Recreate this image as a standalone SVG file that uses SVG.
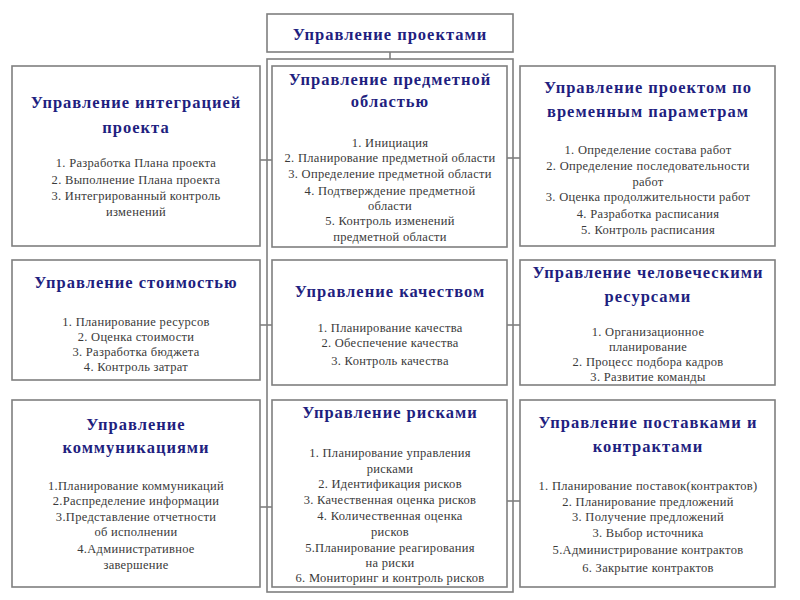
<svg xmlns="http://www.w3.org/2000/svg" width="800" height="600" viewBox="0 0 800 600">
<style>
.box{fill:#fff;stroke:#7f7f7f;stroke-width:1.6}
.ln{fill:none;stroke:#7f7f7f;stroke-width:1.6}
.t{font-family:'Liberation Serif','DejaVu Serif',serif;font-weight:bold;font-size:16.5px;fill:#1f1f80;text-anchor:middle;letter-spacing:1px}
.b{font-family:'Liberation Serif','DejaVu Serif',serif;font-size:12.5px;fill:#3a3a3a;text-anchor:middle;letter-spacing:0.3px}
</style>
<rect width="800" height="600" fill="#fff"/>
<g id="connectors">
<line class="ln" x1="390" y1="52" x2="390" y2="59"/>
<rect class="ln" x="267" y="59" width="246" height="533"/>
<line class="ln" x1="260" y1="160" x2="272" y2="160"/>
<line class="ln" x1="507" y1="158" x2="520" y2="158"/>
<line class="ln" x1="260" y1="325" x2="272" y2="325"/>
<line class="ln" x1="507" y1="325" x2="520" y2="325"/>
<line class="ln" x1="260" y1="507" x2="272" y2="507"/>
<line class="ln" x1="507" y1="501" x2="520" y2="501"/>
</g>
<g id="top">
<rect class="box" x="267" y="14" width="246" height="38"/>
<text class="t" x="390" y="40">Управление проектами</text>
</g>
<g id="integration">
<rect class="box" x="12" y="66" width="248" height="180"/>
<text class="t" x="136" y="108">Управление интеграцией</text>
<text class="t" x="136" y="133">проекта</text>
<text class="b" x="136" y="167">1. Разработка Плана проекта</text>
<text class="b" x="136" y="184">2. Выполнение Плана проекта</text>
<text class="b" x="136" y="200">3. Интегрированный контроль</text>
<text class="b" x="136" y="216">изменений</text>
</g>
<g id="scope">
<rect class="box" x="272" y="66" width="235" height="181"/>
<text class="t" x="390" y="85">Управление предметной</text>
<text class="t" x="390" y="107">областью</text>
<text class="b" x="390" y="147">1. Инициация</text>
<text class="b" x="390" y="162">2. Планирование предметной области</text>
<text class="b" x="390" y="178">3. Определение предметной области</text>
<text class="b" x="390" y="195">4. Подтверждение предметной</text>
<text class="b" x="390" y="210">области</text>
<text class="b" x="390" y="225">5. Контроль изменений</text>
<text class="b" x="390" y="241">предметной области</text>
</g>
<g id="time">
<rect class="box" x="520" y="66" width="255" height="180"/>
<text class="t" x="648" y="93">Управление проектом по</text>
<text class="t" x="648" y="117">временным параметрам</text>
<text class="b" x="648" y="154">1. Определение состава работ</text>
<text class="b" x="648" y="170">2. Определение последовательности</text>
<text class="b" x="648" y="186">работ</text>
<text class="b" x="648" y="201">3. Оценка продолжительности работ</text>
<text class="b" x="648" y="218">4. Разработка расписания</text>
<text class="b" x="648" y="234">5. Контроль расписания</text>
</g>
<g id="cost">
<rect class="box" x="12" y="260" width="248" height="120"/>
<text class="t" x="136" y="288">Управление стоимостью</text>
<text class="b" x="136" y="326">1. Планирование ресурсов</text>
<text class="b" x="136" y="341">2. Оценка стоимости</text>
<text class="b" x="136" y="356">3. Разработка бюджета</text>
<text class="b" x="136" y="371">4. Контроль затрат</text>
</g>
<g id="quality">
<rect class="box" x="272" y="260" width="235" height="125"/>
<text class="t" x="390" y="297">Управление качеством</text>
<text class="b" x="390" y="332">1. Планирование качества</text>
<text class="b" x="390" y="347">2. Обеспечение качества</text>
<text class="b" x="390" y="365">3. Контроль качества</text>
</g>
<g id="hr">
<rect class="box" x="520" y="260" width="255" height="125"/>
<text class="t" x="648" y="278">Управление человеческими</text>
<text class="t" x="648" y="302">ресурсами</text>
<text class="b" x="648" y="336">1. Организационное</text>
<text class="b" x="648" y="351">планирование</text>
<text class="b" x="648" y="366">2. Процесс подбора кадров</text>
<text class="b" x="648" y="381">3. Развитие команды</text>
</g>
<g id="communications">
<rect class="box" x="12" y="400" width="248" height="187"/>
<text class="t" x="136" y="430">Управление</text>
<text class="t" x="136" y="453">коммуникациями</text>
<text class="b" x="136" y="490">1.Планирование коммуникаций</text>
<text class="b" x="136" y="505">2.Распределение информации</text>
<text class="b" x="136" y="521">3.Представление отчетности</text>
<text class="b" x="136" y="536">об исполнении</text>
<text class="b" x="136" y="553">4.Административное</text>
<text class="b" x="136" y="569">завершение</text>
</g>
<g id="risks">
<rect class="box" x="272" y="400" width="235" height="187"/>
<text class="t" x="390" y="418">Управление рисками</text>
<text class="b" x="390" y="457">1. Планирование управления</text>
<text class="b" x="390" y="473">рисками</text>
<text class="b" x="390" y="488">2. Идентификация рисков</text>
<text class="b" x="390" y="504">3. Качественная оценка рисков</text>
<text class="b" x="390" y="520">4. Количественная оценка</text>
<text class="b" x="390" y="536">рисков</text>
<text class="b" x="390" y="552">5.Планирование реагирования</text>
<text class="b" x="390" y="567">на риски</text>
<text class="b" x="390" y="582">6. Мониторинг и контроль рисков</text>
</g>
<g id="procurement">
<rect class="box" x="520" y="400" width="255" height="187"/>
<text class="t" x="648" y="428">Управление поставками и</text>
<text class="t" x="648" y="452">контрактами</text>
<text class="b" x="648" y="490">1. Планирование поставок(контрактов)</text>
<text class="b" x="648" y="506">2. Планирование предложений</text>
<text class="b" x="648" y="521">3. Получение предложений</text>
<text class="b" x="648" y="537">3. Выбор источника</text>
<text class="b" x="648" y="554">5.Администрирование контрактов</text>
<text class="b" x="648" y="572">6. Закрытие контрактов</text>
</g>
</svg>
